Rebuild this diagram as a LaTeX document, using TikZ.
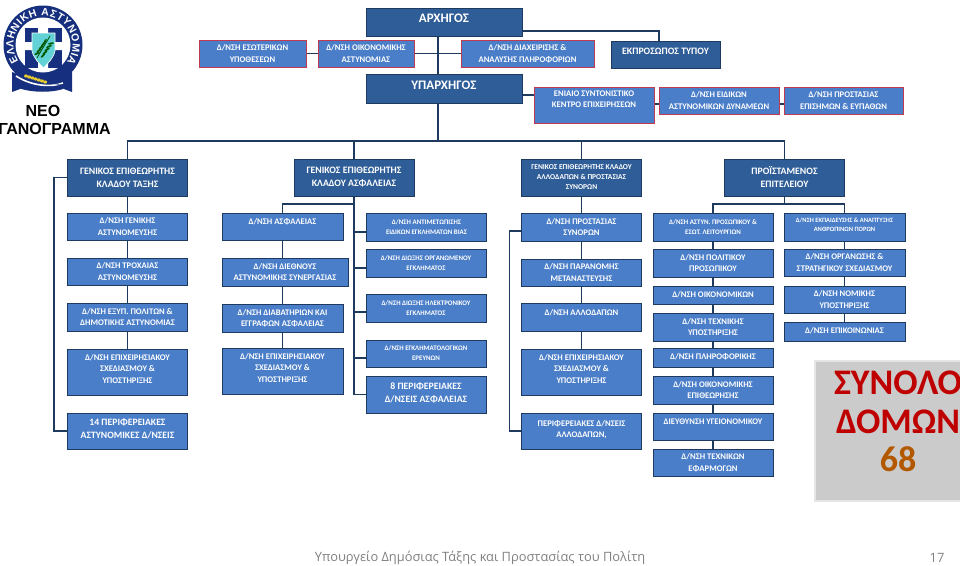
\documentclass[tikz,border=0pt]{standalone}
\usepackage{fontspec}
\setmainfont{Carlito}
\newfontfamily\headfont{Liberation Sans}
\newfontfamily\footfont{Open Sans}
\usetikzlibrary{positioning, calc, decorations.text}
\definecolor{policenavy}{HTML}{16307F}
\definecolor{shieldcyan}{HTML}{63D2D6}
\definecolor{chiefblue}{HTML}{2F5D97}
\definecolor{dirblue}{HTML}{4A7EC8}
\definecolor{edgeblue}{HTML}{1E3A5F}
\definecolor{edgered}{HTML}{C23A50}
\definecolor{totalgrey}{HTML}{CCCBCB}
\tikzstyle{chief} = [rectangle, minimum width=120pt, minimum height=37pt, inner sep=0pt, align=center, draw=edgeblue, line width=1pt, fill=chiefblue, text=white, font=\fontsize{9.8}{13}\selectfont\bfseries]
\tikzstyle{dir} = [rectangle, minimum width=120pt, minimum height=28pt, inner sep=0pt, align=center, draw=edgeblue, line width=1pt, fill=dirblue, text=white, text depth=0pt, font=\fontsize{8.6}{11.6}\selectfont\bfseries]
\tikzstyle{reddir} = [dir, draw=edgered]
\tikzstyle{tiny} = [font=\fontsize{6.9}{10}\selectfont\bfseries]
\tikzstyle{big} = [text depth=4pt, font=\fontsize{9.7}{13}\selectfont\bfseries]
\tikzstyle{link} = [draw=edgeblue, line width=1.2pt]
\begin{document}
\begin{tikzpicture}[x=1pt, y=-1pt, node distance=45pt]
    \useasboundingbox (0,0) rectangle (960,565);
    % badge
    \begin{scope}[shift={(43,45)}, y=1pt]
      \fill [policenavy] (-31,-27) -- (-31,-47) -- (-23,-44) -- (-23,-30) -- cycle;
      \fill [policenavy] (29,-27) -- (29,-47) -- (21,-44) -- (21,-30) -- cycle;
      \fill [policenavy] (-25,-29) .. controls (-10,-37) and (10,-37) .. (23,-29) -- (23,-43) .. controls (10,-48) and (-10,-48) .. (-25,-43) -- cycle;
      \fill [policenavy] (0,0) circle (39.5);
      \fill [white] (0,0) circle (27.5);
      \path [decorate, decoration={text along path, text align=fit to path, text={|\headfont\bfseries\fontsize{10.5}{10.5}\selectfont\color{white}|ΕΛΛΗΝΙΚΗ ΑΣΤΥΝΟΜΙΑ}}] (214:29.5) arc (214:-36:29.5);
      \fill [policenavy] (-18,17) rectangle (19,-23);
      \fill [white] (-5,17) rectangle (5,-23) (-18,3) rectangle (19,-5);
      \fill [shieldcyan, draw=white, line width=.6pt] (-11,12) -- (12,12) -- (12,-6) .. controls (10,-14) and (5,-18) .. (0.5,-23) .. controls (-4,-18) and (-9,-14) .. (-11,-6) -- cycle;
      \draw [green!35!black, line width=.8pt] (-6,-13) .. controls (-2,-6) and (3,2) .. (7,9);
      \foreach \p/\a in {-3/25, -1/35, 1/40, 3/50, 5/60}
        \fill [green!35!black] (\p,{1.5*\p-5}) ++(-3,1) ellipse [x radius=3, y radius=1, rotate=\a]
                               (\p,{1.5*\p-5}) ++(3,-1) ellipse [x radius=3, y radius=1, rotate=-\a+70];
      \draw [white, line width=1.6pt] (-27,-31) .. controls (-10,-42) and (10,-42) .. (20,-38);
      \draw [policenavy, line width=.4pt] (-10,-36) -- (20,-40);
      \foreach \w in {0,...,6}
        \fill [yellow!60!brown] ({-17+3.2*\w},{-31-\w}) ellipse [x radius=2, y radius=1.6];
    \end{scope}
    \node (neo) [font=\headfont\bfseries\fontsize{16}{18}\selectfont, align=center] at (43,120) {ΝΕΟ\\ΟΡΓΑΝΟΓΡΑΜΜΑ};
    % top of the chart
    \node (1) [chief, minimum width=156pt, minimum height=28pt, font=\fontsize{13}{15}\selectfont\bfseries, text depth=7pt] at (444,22) {ΑΡΧΗΓΟΣ};
    \node (2) [chief, below of=1, node distance=66.5pt, minimum width=156pt, minimum height=29pt, font=\fontsize{13}{15}\selectfont\bfseries, text depth=7pt] {ΥΠΑΡΧΗΓΟΣ};
    \node (4) [reddir, minimum width=96pt, minimum height=27pt] at (366,53.5) {Δ/ΝΣΗ ΟΙΚΟΝΟΜΙΚΗΣ\\ΑΣΤΥΝΟΜΙΑΣ};
    \node (3) [reddir, left of=4, node distance=113.5pt, minimum width=107pt, minimum height=27pt] {Δ/ΝΣΗ ΕΣΩΤΕΡΙΚΩΝ\\ΥΠΟΘΕΣΕΩΝ};
    \node (5) [reddir, right of=4, node distance=161.5pt, minimum width=133pt, minimum height=27pt] {Δ/ΝΣΗ ΔΙΑΧΕΙΡΙΣΗΣ \&\\ΑΝΑΛΥΣΗΣ ΠΛΗΡΟΦΟΡΙΩΝ};
    \node (6) [chief, right of=5, node distance=138pt, yshift=-1pt, minimum width=109pt, minimum height=27pt, text depth=7pt] {ΕΚΠΡΟΣΩΠΟΣ ΤΥΠΟΥ};
    \node (7) [reddir, minimum height=36pt] at (594,105) {ΕΝΙΑΙΟ ΣΥΝΤΟΝΙΣΤΙΚΟ\\ΚΕΝΤΡΟ ΕΠΙΧΕΙΡΗΣΕΩΝ\\~};
    \node (8) [reddir, right of=7, node distance=125pt, yshift=4.5pt, minimum height=27pt] {Δ/ΝΣΗ ΕΙΔΙΚΩΝ\\ΑΣΤΥΝΟΜΙΚΩΝ ΔΥΝΑΜΕΩΝ};
    \node (9) [reddir, right of=8, node distance=124.5pt, minimum width=119pt, minimum height=27pt] {Δ/ΝΣΗ ΠΡΟΣΤΑΣΙΑΣ\\ΕΠΙΣΗΜΩΝ \& ΕΥΠΑΘΩΝ};
    % first column
    \node (10) [chief] at (127.5,177.5) {ΓΕΝΙΚΟΣ ΕΠΙΘΕΩΡΗΤΗΣ\\ΚΛΑΔΟΥ ΤΑΞΗΣ};
    \node (11) [dir, below of=10, node distance=49pt, minimum height=27pt] {Δ/ΝΣΗ ΓΕΝΙΚΗΣ\\ΑΣΤΥΝΟΜΕΥΣΗΣ};
    \node (12) [dir, below of=11, minimum height=27pt] {Δ/ΝΣΗ ΤΡΟΧΑΙΑΣ\\ΑΣΤΥΝΟΜΕΥΣΗΣ};
    \node (13) [dir, below of=12, node distance=45.5pt] {Δ/ΝΣΗ ΕΞΥΠ. ΠΟΛΙΤΩΝ \&\\ΔΗΜΟΤΙΚΗΣ ΑΣΤΥΝΟΜΙΑΣ};
    \node (14) [dir, below of=13, node distance=55pt, minimum height=46pt] {Δ/ΝΣΗ ΕΠΙΧΕΙΡΗΣΙΑΚΟΥ\\ΣΧΕΔΙΑΣΜΟΥ \&\\ΥΠΟΣΤΗΡΙΞΗΣ\\[-5pt]~};
    \node (15) [dir, big, below of=14, node distance=59pt, minimum height=36pt] {14 ΠΕΡΙΦΕΡΕΙΑΚΕΣ\\ΑΣΤΥΝΟΜΙΚΕΣ Δ/ΝΣΕΙΣ};
    % second and third column
    \node (20) [chief, right of=10, node distance=226.5pt] {ΓΕΝΙΚΟΣ ΕΠΙΘΕΩΡΗΤΗΣ\\ΚΛΑΔΟΥ ΑΣΦΑΛΕΙΑΣ};
    \node (21) [dir, below of=20, node distance=49pt, xshift=-71.5pt, minimum width=121pt, minimum height=27pt] {Δ/ΝΣΗ ΑΣΦΑΛΕΙΑΣ\\[-2pt]~};
    \node (22) [dir, below of=21, node distance=45.5pt, xshift=2.5pt, minimum width=126pt] {Δ/ΝΣΗ ΔΙΕΘΝΟΥΣ\\ΑΣΤΥΝΟΜΙΚΗΣ ΣΥΝΕΡΓΑΣΙΑΣ};
    \node (23) [dir, below of=22, node distance=46pt, xshift=-2.5pt, minimum width=121pt] {Δ/ΝΣΗ ΔΙΑΒΑΤΗΡΙΩΝ ΚΑΙ\\ΕΓΓΡΑΦΩΝ ΑΣΦΑΛΕΙΑΣ};
    \node (24) [dir, below of=23, node distance=53pt, minimum width=121pt, minimum height=46pt] {Δ/ΝΣΗ ΕΠΙΧΕΙΡΗΣΙΑΚΟΥ\\ΣΧΕΔΙΑΣΜΟΥ \&\\ΥΠΟΣΤΗΡΙΞΗΣ\\[-5pt]~};
    \node (25) [dir, tiny, below of=20, node distance=49.5pt, xshift=72.5pt] {Δ/ΝΣΗ ΑΝΤΙΜΕΤΩΠΙΣΗΣ\\ΕΙΔΙΚΩΝ ΕΓΚΛΗΜΑΤΩΝ ΒΙΑΣ};
    \node (26) [dir, tiny, below of=25, node distance=36pt, xshift=-.5pt] {Δ/ΝΣΗ ΔΙΩΞΗΣ ΟΡΓΑΝΩΜΕΝΟΥ\\ΕΓΚΛΗΜΑΤΟΣ};
    \node (27) [dir, tiny, below of=26] {Δ/ΝΣΗ ΔΙΩΞΗΣ ΗΛΕΚΤΡΟΝΙΚΟΥ\\ΕΓΚΛΗΜΑΤΟΣ};
    \node (28) [dir, tiny, below of=27, node distance=45.5pt, minimum height=27pt] {Δ/ΝΣΗ ΕΓΚΛΗΜΑΤΟΛΟΓΙΚΩΝ\\ΕΡΕΥΝΩΝ};
    \node (29) [dir, big, below of=28, node distance=41pt, minimum height=37pt] {8 ΠΕΡΙΦΕΡΕΙΑΚΕΣ\\Δ/ΝΣΕΙΣ ΑΣΦΑΛΕΙΑΣ};
    % fourth column
    \node (30) [chief, right of=20, node distance=227.5pt, font=\fontsize{7.5}{10}\selectfont\bfseries] {ΓΕΝΙΚΟΣ ΕΠΙΘΕΩΡΗΤΗΣ ΚΛΑΔΟΥ\\ΑΛΛΟΔΑΠΩΝ \& ΠΡΟΣΤΑΣΙΑΣ\\ΣΥΝΟΡΩΝ};
    \node (31) [dir, below of=30, node distance=49.5pt] {Δ/ΝΣΗ ΠΡΟΣΤΑΣΙΑΣ\\ΣΥΝΟΡΩΝ};
    \node (32) [dir, below of=31, node distance=45.5pt, minimum height=27pt] {Δ/ΝΣΗ ΠΑΡΑΝΟΜΗΣ\\ΜΕΤΑΝΑΣΤΕΥΣΗΣ};
    \node (33) [dir, below of=32, node distance=44.5pt] {Δ/ΝΣΗ ΑΛΛΟΔΑΠΩΝ\\[-2pt]~};
    \node (34) [dir, below of=33, node distance=55pt, minimum height=46pt] {Δ/ΝΣΗ ΕΠΙΧΕΙΡΗΣΙΑΚΟΥ\\ΣΧΕΔΙΑΣΜΟΥ \&\\ΥΠΟΣΤΗΡΙΞΗΣ\\[-5pt]~};
    \node (35) [dir, below of=34, node distance=59pt, minimum height=36pt, text depth=4pt] {ΠΕΡΙΦΕΡΕΙΑΚΕΣ Δ/ΝΣΕΙΣ\\ΑΛΛΟΔΑΠΩΝ,};
    % staff columns
    \node (40) [chief, right of=30, node distance=203pt] {ΠΡΟΪΣΤΑΜΕΝΟΣ\\ΕΠΙΤΕΛΕΙΟΥ};
    \node (41) [dir, tiny, below of=40, node distance=49.5pt, xshift=-71.5pt] {Δ/ΝΣΗ ΑΣΤΥΝ. ΠΡΟΣΩΠΙΚΟΥ \&\\ΕΣΩΤ. ΛΕΙΤΟΥΡΓΙΩΝ};
    \node (42) [dir, below of=41, node distance=36pt] {Δ/ΝΣΗ ΠΟΛΙΤΙΚΟΥ\\ΠΡΟΣΩΠΙΚΟΥ};
    \node (43) [dir, below of=42, node distance=32pt, minimum height=18pt, text depth=2pt] {Δ/ΝΣΗ ΟΙΚΟΝΟΜΙΚΩΝ};
    \node (44) [dir, below of=43, node distance=32pt] {Δ/ΝΣΗ ΤΕΧΝΙΚΗΣ\\ΥΠΟΣΤΗΡΙΞΗΣ};
    \node (45) [dir, below of=44, node distance=30.5pt, minimum height=19pt, text depth=2pt] {Δ/ΝΣΗ ΠΛΗΡΟΦΟΡΙΚΗΣ};
    \node (46) [dir, below of=45, node distance=32.5pt] {Δ/ΝΣΗ ΟΙΚΟΝΟΜΙΚΗΣ\\ΕΠΙΘΕΩΡΗΣΗΣ};
    \node (47) [dir, below of=46, node distance=36.5pt, minimum height=27pt] {ΔΙΕΥΘΥΝΣΗ ΥΓΕΙΟΝΟΜΙΚΟΥ\\[-2pt]~};
    \node (48) [dir, below of=47, node distance=36pt, minimum height=27pt] {Δ/ΝΣΗ ΤΕΧΝΙΚΩΝ\\ΕΦΑΡΜΟΓΩΝ};
    \node (51) [dir, font=\fontsize{6.5}{9}\selectfont\bfseries, below of=40, node distance=49.5pt, xshift=60pt, minimum width=121pt] {Δ/ΝΣΗ ΕΚΠΑΙΔΕΥΣΗΣ \& ΑΝΑΠΤΥΞΗΣ\\ΑΝΘΡΩΠΙΝΩΝ ΠΟΡΩΝ\\[-4pt]~};
    \node (52) [dir, below of=51, node distance=35.5pt, minimum width=121pt, minimum height=27pt] {Δ/ΝΣΗ ΟΡΓΑΝΩΣΗΣ \&\\ΣΤΡΑΤΗΓΙΚΟΥ ΣΧΕΔΙΑΣΜΟΥ};
    \node (53) [dir, below of=52, node distance=37pt, minimum width=121pt, minimum height=27pt] {Δ/ΝΣΗ ΝΟΜΙΚΗΣ\\ΥΠΟΣΤΗΡΙΞΗΣ};
    \node (54) [dir, below of=53, node distance=32pt, minimum width=121pt, minimum height=19pt, text depth=2pt] {Δ/ΝΣΗ ΕΠΙΚΟΙΝΩΝΙΑΣ};
    % total
    \node (total) [fill=totalgrey, draw=white!90!black, line width=2pt, minimum width=166pt, minimum height=140pt, inner sep=0pt, align=center, text=red!75!black, font=\fontsize{36}{38.5}\selectfont\bfseries, text depth=18pt] at (898,430.5) {ΣΥΝΟΛΟ\\ΔΟΜΩΝ\\\textcolor{orange!70!black}{68}};
    \node (foot) [font=\footfont\fontsize{12.85}{15}\selectfont, text=black!50] at (480,558) {Υπουργείο Δημόσιας Τάξης και Προστασίας του Πολίτη};
    \node (page) [font=\footfont\fontsize{12.85}{15}\selectfont, text=black!50] at (937,558) {17};
    % connectors
    \coordinate (bus) at (438,141);
    \coordinate (fork1) at (354,204);
    \coordinate (fork2) at (784.5,204);
    \draw [link] ([xshift=-6pt]1.south) -- ([xshift=-6pt]2.north);
    \draw [link] (3) -- (4);
    \draw [link] (4) -- (5);
    \draw [link] ([yshift=-9pt]1.east) -| ([xshift=-6.5pt]6.north);
    \draw [link] ([yshift=-6.5pt]2.east) -- ([yshift=10pt]7.west);
    \draw [link] ([yshift=1pt]7.east) -- ([yshift=-3.5pt]8.west);
    \draw [link] ([yshift=-3.5pt]8.east) -- ([yshift=-3.5pt]9.west);
    \draw [link] ([xshift=-6pt]2.south) -- (bus);
    \draw [link] (10.north) |- (bus);
    \draw [link] (40.north) |- (bus);
    \draw [link] (20.north) -- (20.north |- bus);
    \draw [link] (30.north) -- (30.north |- bus);
    \draw [link] (10) -- (11);
    \draw [link] (11) -- (12);
    \draw [link] (12) -- (13);
    \draw [link] (13) -- (14);
    \draw [link] (10.west) -- ++(-13,0) |- (15.west);
    \draw [link] (20.south) -- (fork1);
    \draw [link] (21.north) |- (fork1);
    \draw [link] (21.south) -- (21.south |- 22.north);
    \draw [link] (23.north |- 22.south) -- (23.north);
    \draw [link] (23) -- (24);
    \draw [link] ([yshift=-5pt]25.west) -| (20.south);
    \draw [link] ([yshift=-5pt]26.west) -| (20.south);
    \draw [link] ([yshift=-4pt]27.west) -| (20.south);
    \draw [link] ([yshift=-4.5pt]28.west) -| (20.south);
    \draw [link] (29.west) -| (20.south);
    \draw [link] (30) -- (31);
    \draw [link] (31) -- (32);
    \draw [link] (32) -- (33);
    \draw [link] (33) -- (34);
    \draw [link] ([yshift=-4pt]31.west) -- ++(-11.5,0) |- (35.west);
    \draw [link] (40.south) -- (fork2);
    \draw [link] (41.north) |- (fork2);
    \draw [link] (51.north) |- (fork2);
    \draw [link] (41) -- (42);
    \draw [link] (42) -- (43);
    \draw [link] (43) -- (44);
    \draw [link] (44) -- (45);
    \draw [link] (45) -- (46);
    \draw [link] (46) -- (47);
    \draw [link] (47) -- (48);
    \draw [link] (51) -- (52);
    \draw [link] (52) -- (53);
    \draw [link] (53) -- (54);
  \end{tikzpicture}
\end{document}
